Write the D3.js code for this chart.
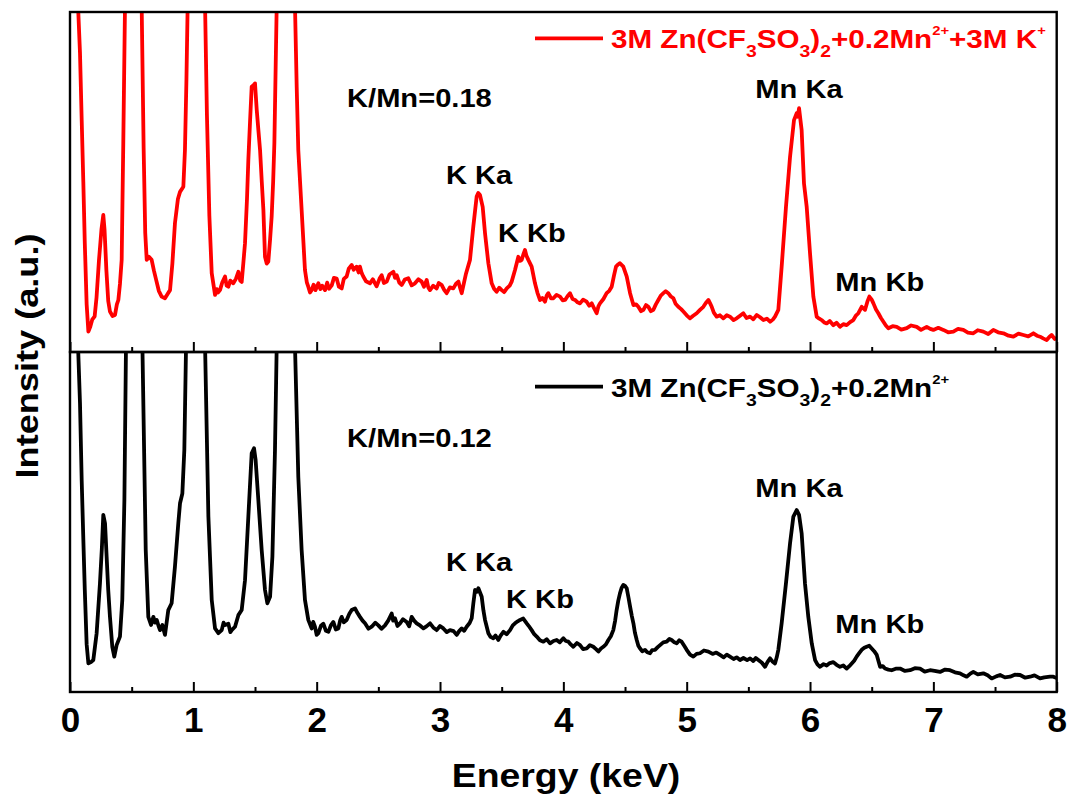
<!DOCTYPE html>
<html>
<head>
<meta charset="utf-8">
<script src="https://cdn.jsdelivr.net/npm/d3@7/dist/d3.min.js"></script>
<style>
  body { margin: 0; background: #fff; }
  svg { display: block; }
  text { font-family: "Liberation Sans", Arial, sans-serif; font-weight: bold; }
</style>
</head>
<body>
<svg id="chart" width="1067" height="798"></svg>
<script>
const majorTicks = [0, 1, 2, 3, 4, 5, 6, 7, 8];
const minorTicks = [0.5, 1.5, 2.5, 3.5, 4.5, 5.5, 6.5, 7.5];

// [energy keV, intensity a.u.]; values above 100 leave the panel
const redSpectrum = [
  [0.03, 250], [0.065, 102], [0.081, 88], [0.095, 68], [0.108, 50], [0.12, 32], [0.135, 14], [0.149, 6.0],
  [0.165, 7.5], [0.18, 9.5], [0.2, 10.5], [0.215, 16], [0.235, 27], [0.255, 36], [0.27, 40.3], [0.28, 36],
  [0.295, 24], [0.31, 15], [0.324, 11.9], [0.345, 10.6], [0.365, 10.9], [0.38, 14], [0.392, 15.3], [0.405, 20],
  [0.419, 27.1], [0.432, 61.4], [0.446, 102], [0.52, 280], [0.581, 102], [0.597, 60], [0.61, 35], [0.622, 27.1],
  [0.64, 28], [0.662, 27.1], [0.68, 24], [0.70, 21], [0.72, 18], [0.743, 16.3], [0.77, 15.8], [0.79, 17],
  [0.811, 18.2], [0.83, 26], [0.851, 37.9], [0.875, 45], [0.892, 47.1], [0.919, 48.6], [0.932, 59.4], [0.944, 80],
  [0.954, 102], [1.02, 300], [1.095, 102], [1.11, 70], [1.13, 40], [1.149, 23.2], [1.176, 16.8], [1.19, 18.5],
  [1.20, 17.5], [1.216, 18.2], [1.235, 20.5], [1.257, 22.2], [1.27, 19.5], [1.284, 19.2], [1.30, 21], [1.324, 20.2],
  [1.345, 21.5], [1.365, 23.6], [1.38, 21], [1.392, 20.6], [1.405, 26], [1.419, 32.0], [1.435, 45], [1.446, 56.5],
  [1.46, 68], [1.473, 78.0], [1.49, 78.5], [1.500, 79.0], [1.514, 71.2], [1.528, 65], [1.541, 59.4], [1.555, 50],
  [1.568, 41.8], [1.581, 28.0], [1.595, 26], [1.608, 26.6], [1.622, 33], [1.635, 39.8], [1.647, 50], [1.657, 61.4],
  [1.668, 85], [1.676, 102], [1.75, 300], [1.824, 102], [1.838, 78], [1.851, 59.4], [1.878, 41.8], [1.893, 32],
  [1.905, 24.1], [1.92, 20.5], [1.932, 19.2], [1.946, 17.5], [1.959, 18.2], [1.975, 19.8], [1.99, 18.2], [2.014, 20.2],
  [2.03, 18.5], [2.045, 19.5], [2.068, 18.2], [2.085, 20.4], [2.10, 18.6], [2.122, 19.6], [2.14, 21.8], [2.162, 21.6],
  [2.18, 19.2], [2.203, 18.7], [2.22, 21.5], [2.243, 22.2], [2.26, 24.5], [2.284, 25.6], [2.30, 24.2], [2.324, 25.1],
  [2.34, 23.4], [2.351, 25.1], [2.365, 23.2], [2.378, 22.2], [2.40, 20.8], [2.432, 20.2], [2.455, 21.4], [2.486, 19.3],
  [2.51, 21.6], [2.527, 22.6], [2.545, 20.3], [2.568, 20.7], [2.59, 22.8], [2.622, 23.6], [2.635, 21.8], [2.649, 22.6],
  [2.67, 20.4], [2.689, 19.7], [2.715, 21.3], [2.743, 21.7], [2.77, 19.6], [2.797, 20.2], [2.825, 21.4], [2.851, 20.7],
  [2.87, 19.2], [2.892, 21.2], [2.905, 19.0], [2.919, 18.2], [2.945, 19.5], [2.973, 18.7], [2.99, 20.3], [3.014, 19.7],
  [3.035, 18.2], [3.054, 17.3], [3.08, 19.0], [3.108, 18.7], [3.13, 20.1], [3.149, 20.7], [3.165, 18.6], [3.176, 17.3],
  [3.195, 20.5], [3.211, 23.1], [3.243, 27.1], [3.27, 36.9], [3.297, 45.7], [3.31, 46.8], [3.324, 46.2], [3.346, 42.7],
  [3.365, 34.9], [3.392, 26.1], [3.419, 20.2], [3.44, 18.5], [3.459, 17.7], [3.48, 18.9], [3.5, 18.2], [3.52, 17.6],
  [3.541, 18.7], [3.565, 19.5], [3.581, 20.7], [3.608, 24.1], [3.635, 28.0], [3.65, 26.8], [3.662, 27.1], [3.675, 28.6],
  [3.689, 30.0], [3.70, 28.4], [3.716, 27.1], [3.743, 25.1], [3.77, 20.2], [3.79, 17.4], [3.811, 15.3], [3.83, 15.9],
  [3.851, 14.8], [3.865, 16.6], [3.878, 17.3], [3.9, 15.8], [3.919, 15.8], [3.945, 16.8], [3.973, 16.3], [3.995, 15.2],
  [4.014, 15.3], [4.035, 16.5], [4.054, 17.3], [4.075, 15.6], [4.095, 15.3], [4.115, 14.6], [4.135, 14.3], [4.16, 15.4],
  [4.189, 14.8], [4.21, 13.6], [4.230, 14.3], [4.25, 12.8], [4.270, 11.4], [4.285, 13.5], [4.297, 14.3], [4.325, 15.6],
  [4.351, 17.3], [4.372, 18.0], [4.392, 19.2], [4.41, 22.4], [4.427, 25.1], [4.445, 25.8], [4.459, 26.1], [4.486, 25.1],
  [4.514, 22.2], [4.541, 17.3], [4.568, 13.8], [4.59, 14.0], [4.608, 13.3], [4.63, 12.0], [4.649, 12.4], [4.67, 13.8],
  [4.689, 13.3], [4.71, 12.0], [4.730, 12.4], [4.75, 14.0], [4.770, 15.3], [4.79, 16.6], [4.811, 17.3], [4.83, 17.9],
  [4.851, 17.3], [4.87, 16.4], [4.892, 15.8], [4.91, 14.2], [4.932, 13.3], [4.955, 12.6], [4.973, 11.9], [5.0, 10.8],
  [5.027, 9.9], [5.05, 10.6], [5.081, 11.4], [5.108, 12.4], [5.135, 13.3], [5.155, 14.4], [5.176, 15.3], [5.19, 14.3],
  [5.203, 13.3], [5.22, 11.6], [5.243, 10.4], [5.27, 10.8], [5.297, 9.9], [5.325, 10.8], [5.351, 10.4], [5.38, 9.4],
  [5.405, 9.9], [5.43, 10.6], [5.459, 11.4], [5.485, 10.0], [5.514, 10.4], [5.54, 9.6], [5.568, 10.9], [5.595, 10.2],
  [5.622, 9.4], [5.65, 9.8], [5.676, 8.9], [5.70, 9.6], [5.716, 10.4], [5.743, 12.4], [5.770, 25.1], [5.805, 42.7],
  [5.838, 57.4], [5.870, 68.2], [5.892, 70.2], [5.900, 69.2], [5.911, 71.7], [5.932, 65.3], [5.951, 49.6], [5.973, 42.7],
  [6.0, 29.0], [6.027, 16.3], [6.054, 10.4], [6.075, 9.8], [6.095, 9.4], [6.115, 8.7], [6.135, 8.4], [6.16, 9.1],
  [6.189, 7.9], [6.215, 8.6], [6.243, 7.4], [6.27, 8.2], [6.297, 7.9], [6.325, 8.8], [6.351, 9.4], [6.37, 10.6],
  [6.392, 11.4], [6.419, 13.3], [6.446, 12.4], [6.465, 14.8], [6.481, 16.3], [6.50, 15.4], [6.514, 14.3], [6.535, 12.5],
  [6.554, 11.4], [6.575, 10.0], [6.595, 8.9], [6.615, 7.8], [6.635, 7.0], [6.67, 7.6], [6.703, 7.4], [6.74, 6.6],
  [6.784, 7.0], [6.82, 7.8], [6.865, 7.4], [6.90, 6.5], [6.946, 7.4], [6.975, 6.8], [7.0, 6.5], [7.04, 7.1],
  [7.081, 6.5], [7.12, 5.8], [7.162, 6.0], [7.20, 6.8], [7.243, 6.5], [7.28, 5.7], [7.324, 5.5], [7.36, 6.4],
  [7.405, 6.0], [7.445, 5.3], [7.486, 6.5], [7.525, 5.8], [7.568, 5.5], [7.61, 4.8], [7.649, 4.5], [7.69, 5.4],
  [7.730, 5.0], [7.77, 4.6], [7.811, 5.5], [7.84, 4.8], [7.865, 4.5], [7.89, 4.0], [7.919, 3.5], [7.94, 4.4],
  [7.959, 5.0], [7.985, 3.8], [8.0, 4.2]
];

const blackSpectrum = [
  [0.03, 250], [0.065, 102], [0.081, 85], [0.095, 62], [0.108, 45], [0.12, 30], [0.135, 14], [0.149, 8.4],
  [0.17, 8.8], [0.189, 9.4], [0.216, 17.3], [0.243, 32.0], [0.258, 42], [0.270, 52.1], [0.284, 49.6], [0.297, 39.8],
  [0.31, 30], [0.324, 22.1], [0.343, 13.3], [0.359, 10.4], [0.378, 13.8], [0.405, 16.3], [0.424, 27.1], [0.441, 56.5],
  [0.454, 102], [0.52, 280], [0.587, 102], [0.614, 41.8], [0.635, 22.1], [0.657, 19.7], [0.676, 22.1], [0.69, 20.4],
  [0.703, 21.2], [0.718, 19.4], [0.730, 18.2], [0.749, 19.7], [0.770, 16.8], [0.797, 24.1], [0.824, 26.1], [0.851, 36.9],
  [0.878, 49.6], [0.892, 55.5], [0.911, 58.4], [0.927, 71.2], [0.941, 102], [1.02, 300], [1.095, 102], [1.122, 51.6],
  [1.149, 27.1], [1.176, 18.7], [1.203, 17.3], [1.230, 18.2], [1.245, 20.4], [1.257, 19.7], [1.284, 20.1], [1.30, 17.6],
  [1.311, 18.2], [1.338, 19.2], [1.365, 22.6], [1.392, 24.1], [1.419, 32.9], [1.446, 51.6], [1.473, 70.2], [1.492, 71.7],
  [1.505, 68.2], [1.527, 56.5], [1.554, 41.8], [1.581, 30.0], [1.600, 26.1], [1.622, 28.0], [1.641, 39.8], [1.662, 71.2],
  [1.676, 102], [1.75, 300], [1.824, 102], [1.851, 63.3], [1.878, 41.8], [1.905, 27.1], [1.932, 21.2], [1.959, 18.7],
  [1.972, 20.6], [1.986, 19.2], [2.0, 16.8], [2.014, 17.3], [2.035, 19.5], [2.054, 20.1], [2.075, 18.0], [2.095, 17.7],
  [2.115, 19.6], [2.135, 20.6], [2.155, 18.4], [2.176, 18.7], [2.19, 21.0], [2.203, 22.1], [2.22, 20.5], [2.243, 21.2],
  [2.265, 23.0], [2.284, 24.1], [2.311, 24.6], [2.33, 23.3], [2.351, 22.1], [2.372, 21.0], [2.392, 20.2], [2.42, 18.6],
  [2.446, 19.2], [2.475, 20.4], [2.500, 19.6], [2.525, 18.6], [2.554, 19.6], [2.58, 21.0], [2.608, 23.1], [2.62, 21.0],
  [2.635, 21.7], [2.655, 19.4], [2.676, 20.2], [2.70, 21.4], [2.730, 20.6], [2.75, 19.3], [2.770, 22.1], [2.79, 21.0],
  [2.811, 20.2], [2.84, 19.5], [2.865, 18.7], [2.89, 19.3], [2.919, 20.2], [2.945, 19.0], [2.973, 18.2], [3.0, 19.4],
  [3.027, 18.7], [3.055, 17.6], [3.081, 18.2], [3.11, 17.9], [3.135, 16.8], [3.155, 17.9], [3.176, 18.7], [3.196, 18.0],
  [3.216, 19.2], [3.24, 20.3], [3.257, 21.7], [3.27, 26], [3.284, 30.0], [3.30, 29.5], [3.311, 30.5], [3.338, 28.0],
  [3.352, 24], [3.365, 21.2], [3.392, 17.3], [3.41, 16.2], [3.432, 15.8], [3.45, 16.6], [3.473, 15.3], [3.49, 16.5],
  [3.514, 17.7], [3.54, 17.0], [3.568, 18.2], [3.59, 19.6], [3.608, 20.2], [3.63, 20.8], [3.649, 21.2], [3.675, 21.6],
  [3.703, 20.2], [3.72, 19.4], [3.743, 18.2], [3.764, 17.0], [3.784, 16.3], [3.81, 15.2], [3.838, 14.8], [3.865, 15.5],
  [3.892, 14.3], [3.92, 15.0], [3.946, 15.3], [3.97, 14.6], [4.0, 15.8], [4.02, 15.0], [4.041, 14.8], [4.06, 14.0],
  [4.081, 13.3], [4.11, 14.4], [4.135, 13.8], [4.16, 12.6], [4.189, 12.8], [4.215, 13.8], [4.243, 13.3], [4.265, 12.6],
  [4.284, 11.9], [4.305, 12.8], [4.324, 13.3], [4.345, 14.0], [4.365, 15.3], [4.385, 16.4], [4.405, 18.2], [4.42, 21.0],
  [4.432, 24.1], [4.445, 26.8], [4.459, 29.0], [4.472, 30.6], [4.486, 31.5], [4.50, 31.2], [4.514, 30.5], [4.528, 27.8],
  [4.541, 25.1], [4.555, 22.4], [4.568, 20.2], [4.58, 17.5], [4.595, 15.3], [4.608, 13.6], [4.622, 12.8], [4.64, 12.0],
  [4.662, 12.4], [4.68, 11.7], [4.703, 11.4], [4.72, 12.3], [4.743, 12.4], [4.765, 13.2], [4.784, 13.8], [4.81, 14.6],
  [4.838, 14.8], [4.86, 15.6], [4.878, 15.3], [4.90, 14.6], [4.919, 14.3], [4.94, 15.2], [4.959, 14.8], [4.98, 13.6],
  [5.0, 12.4], [5.027, 11.0], [5.054, 10.4], [5.08, 11.2], [5.108, 11.4], [5.14, 12.2], [5.176, 11.9], [5.21, 11.2],
  [5.24, 11.6], [5.270, 10.9], [5.30, 10.2], [5.325, 11.0], [5.351, 10.4], [5.38, 9.7], [5.405, 10.2], [5.432, 9.4],
  [5.46, 10.0], [5.49, 9.4], [5.514, 9.9], [5.54, 9.1], [5.56, 10.0], [5.581, 9.4], [5.61, 8.6], [5.635, 7.4],
  [5.655, 8.8], [5.676, 9.9], [5.695, 9.0], [5.716, 8.4], [5.73, 10.2], [5.743, 12.4], [5.770, 20.2], [5.805, 32.0],
  [5.838, 43.7], [5.865, 51.6], [5.892, 53.5], [5.911, 52.1], [5.932, 46.7], [5.959, 32.0], [5.986, 22.1], [6.014, 14.3],
  [6.041, 9.4], [6.06, 8.1], [6.081, 7.4], [6.11, 8.2], [6.135, 7.8], [6.16, 8.5], [6.189, 8.8], [6.215, 8.0],
  [6.243, 7.4], [6.27, 7.8], [6.297, 6.9], [6.318, 7.6], [6.338, 8.4], [6.358, 9.2], [6.378, 10.4], [6.40, 11.5],
  [6.419, 12.4], [6.44, 13.0], [6.459, 13.3], [6.48, 13.6], [6.500, 12.8], [6.52, 12.0], [6.541, 10.9], [6.568, 7.4],
  [6.59, 7.6], [6.608, 6.9], [6.635, 6.6], [6.662, 6.4], [6.70, 6.9], [6.730, 6.9], [6.77, 6.2], [6.811, 6.4],
  [6.85, 7.0], [6.892, 6.9], [6.93, 6.0], [6.973, 6.4], [7.01, 6.2], [7.054, 5.9], [7.095, 6.6], [7.135, 6.4],
  [7.175, 5.8], [7.216, 5.5], [7.245, 4.9], [7.270, 4.5], [7.30, 5.4], [7.324, 5.9], [7.36, 5.2], [7.405, 5.5],
  [7.44, 4.9], [7.473, 4.0], [7.51, 4.6], [7.541, 5.0], [7.58, 4.3], [7.622, 4.5], [7.66, 5.1], [7.703, 5.0],
  [7.745, 4.2], [7.784, 4.5], [7.82, 4.9], [7.865, 4.0], [7.90, 4.3], [7.946, 4.5], [7.973, 4.5], [8.0, 4.1]
];

// peak annotations: [text, energy at left edge, intensity at baseline]
const redLabels = [
  ["K/Mn=0.18", 2.246, 72.1],
  ["K Ka", 3.048, 49.3],
  ["K Kb", 3.470, 32.4],
  ["Mn Ka", 5.556, 74.6],
  ["Mn Kb", 6.205, 18.0]
];
const blackLabels = [
  ["K/Mn=0.12", 2.246, 72.1],
  ["K Ka", 3.048, 35.7],
  ["K Kb", 3.535, 24.8],
  ["Mn Ka", 5.556, 57.4],
  ["Mn Kb", 6.205, 17.3]
];

const svg = d3.select("#chart");
const left = 70;
const right = 1056.7;
const panelTop = 12;
const panelMid = 352;
const panelBottom = 692;

const x = d3.scaleLinear().domain([0, 8]).range([left, right]);
const yTop = d3.scaleLinear().domain([0, 100]).range([panelMid, panelTop]);
const yBottom = d3.scaleLinear().domain([0, 100]).range([panelBottom, panelMid]);

// stretch a text horizontally so it reads like the (widened) original figure
function stretchText(text, tx, ty, sx) {
  text.attr("transform", `translate(${tx},${ty}) scale(${sx},1)`);
}

function drawPanel(name, y, y0, y1, data, color, labels, showTickLabels) {
  const clipId = `clip-${name}`;
  svg.append("clipPath")
    .attr("id", clipId)
    .append("rect")
    .attr("x", left)
    .attr("y", y1)
    .attr("width", right - left)
    .attr("height", y0 - y1);

  const line = d3.line()
    .x((d) => x(d[0]))
    .y((d) => y(d[1]));

  svg.append("path")
    .datum(data)
    .attr("clip-path", `url(#${clipId})`)
    .attr("fill", "none")
    .attr("stroke", color)
    .attr("stroke-width", 3.8)
    .attr("stroke-linejoin", "round")
    .attr("d", line);

  const major = d3.axisBottom(x)
    .tickValues(majorTicks)
    .tickSize(-10)
    .tickPadding(15)
    .tickFormat(showTickLabels ? d3.format("d") : "");

  const axisG = svg.append("g")
    .attr("transform", `translate(0,${y0})`)
    .call(major);
  axisG.select(".domain").remove();
  axisG.selectAll(".tick line").attr("stroke", "#000").attr("stroke-width", 2);
  axisG.selectAll(".tick text")
    .attr("fill", "#000")
    .attr("font-size", 35)
    .attr("font-family", "\"Liberation Sans\", Arial, sans-serif")
    .attr("font-weight", "bold");

  const minor = d3.axisBottom(x).tickValues(minorTicks).tickSize(-5).tickFormat("");
  const minorG = svg.append("g")
    .attr("transform", `translate(0,${y0})`)
    .call(minor);
  minorG.select(".domain").remove();
  minorG.selectAll(".tick line").attr("stroke", "#000").attr("stroke-width", 2);

  svg.append("rect")
    .attr("x", left)
    .attr("y", y1)
    .attr("width", right - left)
    .attr("height", y0 - y1)
    .attr("fill", "none")
    .attr("stroke", "#000")
    .attr("stroke-width", 2.4);

  labels.forEach(([label, energy, value]) => {
    const t = svg.append("text")
      .attr("font-size", 26)
      .attr("fill", "#000")
      .text(label);
    stretchText(t, x(energy), y(value), 1.12);
  });
}

drawPanel("top", yTop, panelMid, panelTop, redSpectrum, "#ff0000", redLabels, false);
drawPanel("bottom", yBottom, panelBottom, panelMid, blackSpectrum, "#000000", blackLabels, true);

// legends
function drawLegend(ly, color, withK) {
  svg.append("line")
    .attr("x1", 535)
    .attr("x2", 603)
    .attr("y1", ly - 10)
    .attr("y2", ly - 10)
    .attr("stroke", color)
    .attr("stroke-width", 3.8);

  const t = svg.append("text").attr("font-size", 26).attr("fill", color);
  t.append("tspan").text("3M Zn(CF");
  t.append("tspan").attr("font-size", 17).attr("dy", 9).text("3");
  t.append("tspan").attr("dy", -9).text("SO");
  t.append("tspan").attr("font-size", 17).attr("dy", 9).text("3");
  t.append("tspan").attr("dy", -9).text(")");
  t.append("tspan").attr("font-size", 17).attr("dy", 9).text("2");
  t.append("tspan").attr("dy", -9).text("+0.2Mn");
  t.append("tspan").attr("font-size", 13).attr("dy", -13).text("2+");
  if (withK) {
    t.append("tspan").attr("dy", 13).text("+3M K");
    t.append("tspan").attr("font-size", 13).attr("dy", -13).text("+");
  }
  stretchText(t, 611, ly, 1.14);
}

drawLegend(48.3, "#ff0000", true);
drawLegend(396.7, "#000000", false);

// axis titles
stretchText(
  svg.append("text").attr("font-size", 34).attr("text-anchor", "middle").text("Energy (keV)"),
  566, 787, 1.1
);

svg.append("text")
  .attr("font-size", 32)
  .attr("text-anchor", "middle")
  .attr("transform", "translate(38,356) rotate(-90) scale(1.13,1)")
  .text("Intensity (a.u.)");
</script>
</body>
</html>
